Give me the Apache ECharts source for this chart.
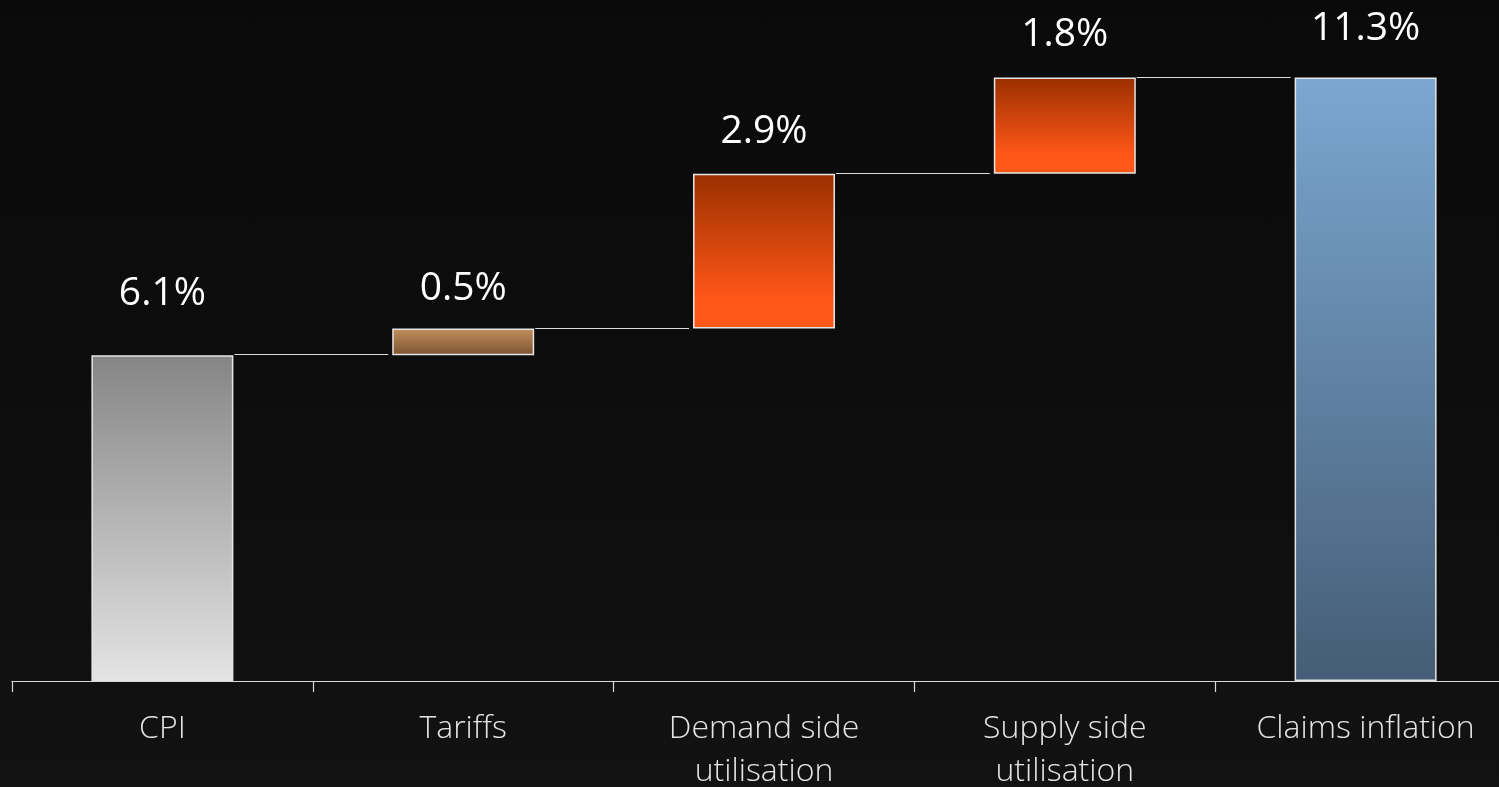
<!DOCTYPE html>
<html>
<head>
<meta charset="utf-8">
<title>Claims inflation build-up</title>
<script src="https://cdn.jsdelivr.net/npm/echarts@6/dist/echarts.min.js"></script>
<style>
  html, body { margin: 0; padding: 0; background: #0e0e0e; }
  #chart {
    width: 1499px; height: 787px;
    background: linear-gradient(180deg, #0a0a0a 0%, #0d0d0d 50%, #121212 100%);
  }
</style>
</head>
<body>
<div id="chart"></div>
<script>
// Waterfall: CPI plus drivers stacking up to total claims inflation (%)
const categories = ['CPI', 'Tariffs', 'Demand side\nutilisation', 'Supply side\nutilisation', 'Claims inflation'];
const values = [6.1, 0.5, 2.9, 1.8, 11.3];
const isTotal = [true, false, false, false, true];

// Layout / style settings
const BAR_FRAC = 0.472;
const labelGap = [41, 20, 22, 23, 29];

const grad = (top, bottom, mid) => ({
  type: 'linear', x: 0, y: 0, x2: 0, y2: 1,
  colorStops: mid
    ? [{ offset: 0, color: top }, { offset: mid[0], color: mid[1] }, { offset: 1, color: bottom }]
    : [{ offset: 0, color: top }, { offset: 1, color: bottom }]
});
const fills = [
  grad('#858585', '#e4e4e4'),
  grad('#c48f5c', '#7a5431'),
  grad('#9a3000', '#ff5a1a', [0.8, '#ff5618']),
  grad('#9a3000', '#ff5a1a', [0.8, '#ff5618']),
  grad('#7ba7d0', '#455d76')
];

// Running totals: invisible base + visible step for each bar
const bases = [];
const tops = [];
let running = 0;
values.forEach((v, i) => {
  if (isTotal[i]) { bases.push(0); running = v; }
  else { bases.push(running); running += v; }
  tops.push(isTotal[i] ? v : running);
});
const connectors = tops.slice(0, -1).map((t, i) => [i, t]);

const chart = echarts.init(document.getElementById('chart'), null, { renderer: 'canvas' });

chart.setOption({
  backgroundColor: 'transparent',
  animation: false,
  grid: { left: 12, top: 40.2, width: 1504, height: 640.8, containLabel: false, outerBoundsMode: 'none' },
  xAxis: {
    type: 'category',
    data: categories,
    boundaryGap: true,
    axisLine: { show: true, lineStyle: { color: '#d9d9d9', width: 1.2 } },
    axisTick: { show: true, alignWithLabel: false, length: 11, lineStyle: { color: '#d9d9d9', width: 1.2 } },
    axisLabel: {
      interval: 0, color: '#e4e4e4', fontFamily: 'Open Sans', fontWeight: 300,
      fontSize: 32, lineHeight: 43, margin: 26
    },
    splitLine: { show: false }
  },
  yAxis: { type: 'value', min: 0, max: 12, show: false, splitLine: { show: false } },
  series: [
    {
      name: 'base', type: 'bar', stack: 'w', silent: true,
      barWidth: (BAR_FRAC * 100) + '%',
      itemStyle: { color: 'rgba(0,0,0,0)', borderWidth: 0 },
      data: bases
    },
    {
      name: 'value', type: 'bar', stack: 'w',
      barWidth: (BAR_FRAC * 100) + '%',
      data: values.map((v, i) => ({
        value: v,
        itemStyle: { color: fills[i], borderColor: '#e6e6e6', borderWidth: 1.5 },
        label: { distance: labelGap[i] }
      })),
      label: {
        show: true, position: 'top', color: '#ffffff',
        fontFamily: 'Open Sans', fontSize: 39, lineHeight: 40,
        formatter: p => p.value + '%'
      }
    },
    {
      name: 'connector', type: 'custom', silent: true,
      data: connectors,
      renderItem: (params, api) => {
        const i = api.value(0);
        const y = api.value(1);
        const p1 = api.coord([i, y]);
        const p2 = api.coord([i + 1, y]);
        const half = api.size([1, 0])[0] * BAR_FRAC / 2;
        return {
          type: 'line',
          shape: { x1: p1[0] + half + 1, y1: Math.round(p1[1]) - 0.5, x2: p2[0] - half - 4, y2: Math.round(p2[1]) - 0.5 },
          style: { stroke: '#dcdcdc', lineWidth: 1.2 }
        };
      }
    }
  ]
});
</script>
</body>
</html>
